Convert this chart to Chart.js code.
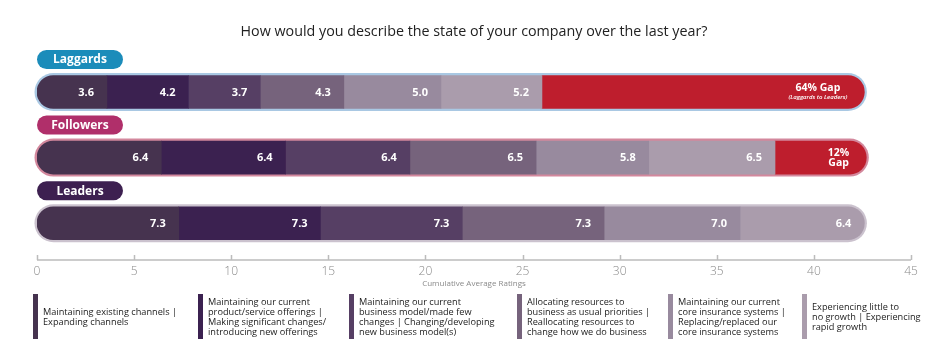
<!DOCTYPE html>
<html><head><meta charset="utf-8">
<script src="https://cdn.jsdelivr.net/npm/chart.js@4.4.0/dist/chart.umd.min.js"></script>
<style>
html,body{margin:0;padding:0;background:#fff;}
#wrap{position:relative;width:946px;height:357px;overflow:hidden;}
canvas{position:absolute;left:0;top:0;}
.lg{position:absolute;top:294px;height:45px;display:flex;align-items:center;font-family:'Open Sans',sans-serif;font-size:9.2px;line-height:10px;color:#222;}
.lg i{position:absolute;left:0;top:0;width:5px;height:45px;}
.lg span{margin-left:10px;white-space:nowrap;}
</style></head>
<body><div id="wrap"><canvas id="c" width="946" height="357"></canvas><div id="legend"></div></div>
<script>
// ---- data ----
const categories = ['Laggards', 'Followers', 'Leaders'];
const ratingNames = [
  'Maintaining existing channels |\nExpanding channels',
  'Maintaining our current\nproduct/service offerings |\nMaking significant changes/\nintroducing new offerings',
  'Maintaining our current\nbusiness model/made few\nchanges | Changing/developing\nnew business model(s)',
  'Allocating resources to\nbusiness as usual priorities |\nReallocating resources to\nchange how we do business',
  'Maintaining our current\ncore insurance systems |\nReplacing/replaced our\ncore insurance systems',
  'Experiencing little to\nno growth | Experiencing\nrapid growth'
];
const channels   = [3.6, 6.4, 7.3];
const offerings  = [4.2, 6.4, 7.3];
const bizModel   = [3.7, 6.4, 7.3];
const resources  = [4.3, 6.5, 7.3];
const coreSys    = [5.0, 5.8, 7.0];
const growth     = [5.2, 6.5, 6.4];
const gapValues  = [16.6, 4.7, 0];
const gapLabels  = [['64% Gap', '(Laggards to Leaders)'], ['12%', 'Gap'], []];
const xTicks     = [0, 5, 10, 15, 20, 25, 30, 35, 40, 45];
const titleText  = 'How would you describe the state of your company over the last year?';
const axisTitle  = 'Cumulative Average Ratings';

// ---- styles ----
const FONT = "'Open Sans', sans-serif";
const segColors = ['#46334f', '#3b2150', '#563f64', '#76637c', '#988a9e', '#aa9cac'];
const gapColor = '#be1e2d';
const outlineColors = ['#a9c8e3', '#d3889d', '#cbc2ce'];
const pillColors = ['#1b8cba', '#b02f6a', '#3d2050'];
const legendLeft = [33, 198, 349, 517, 668, 802];
const BAR_H = 33;

const series = [channels, offerings, bizModel, resources, coreSys, growth];
const allSeries = series.concat([gapValues]);

const datasets = allSeries.map((s, k) => ({
  label: k < 6 ? ratingNames[k] : 'Gap',
  data: s.map(v => (v > 0 ? v : null)),
  backgroundColor: k < 6 ? segColors[k] : gapColor,
  borderWidth: 0,
  borderSkipped: false,
  inflateAmount: 0.3,
  barThickness: BAR_H,
  borderRadius: ctx => {
    const i = ctx.dataIndex, di = ctx.datasetIndex;
    let last = 0;
    allSeries.forEach((ss, j) => { if (ss[i] > 0) last = j; });
    const r = BAR_H / 2;
    const L = di === 0 ? r : 0, R = di === last ? r : 0;
    return {topLeft: L, bottomLeft: L, topRight: R, bottomRight: R};
  }
}));

const decor = {
  id: 'decor',
  beforeDatasetsDraw(chart) {
    const {ctx, scales: {x, y}} = chart;
    ctx.save();
    categories.forEach((c, i) => {
      const cy = y.getPixelForValue(i);
      const total = allSeries.reduce((a, s) => a + s[i], 0);
      const x0 = x.getPixelForValue(0), x1 = x.getPixelForValue(total);
      const e = 2.5;
      ctx.beginPath();
      ctx.roundRect(x0 - e, cy - BAR_H / 2 - e, x1 - x0 + 2 * e, BAR_H + 2 * e, BAR_H / 2 + e);
      ctx.fillStyle = outlineColors[i];
      ctx.fill();
    });
    ctx.restore();
  },
  afterDatasetsDraw(chart) {
    const {ctx, scales: {x, y}, chartArea} = chart;
    ctx.save();
    ctx.fillStyle = '#fff';
    ctx.textBaseline = 'middle';
    series.forEach((s, d) => {
      const meta = chart.getDatasetMeta(d);
      meta.data.forEach((el, i) => {
        ctx.font = `bold 11px ${FONT}`;
        ctx.textAlign = 'right';
        ctx.fillText(s[i].toFixed(1), el.x - 13, el.y + 0.5);
      });
    });
    const gm = chart.getDatasetMeta(6);
    gm.data.forEach((el, i) => {
      const lines = gapLabels[i];
      if (!lines.length) return;
      const fonts = i === 0 ? [`bold 10.5px ${FONT}`, `italic 600 6px ${FONT}`] : [`bold 10.5px ${FONT}`, `bold 10.5px ${FONT}`];
      const offs = i === 0 ? [-4, 5] : [-5, 5];
      let w = 0;
      lines.forEach((t, k) => { ctx.font = fonts[k]; w = Math.max(w, ctx.measureText(t).width); });
      const cx = el.x - 17 - w / 2;
      ctx.textAlign = 'center';
      lines.forEach((t, k) => { ctx.font = fonts[k]; ctx.fillText(t, cx, el.y + offs[k]); });
    });
    categories.forEach((c, i) => {
      const cy = y.getPixelForValue(i) - 32.5;
      const px = chartArea.left, pw = 86, ph = 19;
      ctx.beginPath();
      ctx.roundRect(px, cy - ph / 2, pw, ph, ph / 2);
      ctx.fillStyle = pillColors[i];
      ctx.fill();
      ctx.fillStyle = '#fff';
      ctx.font = `bold 12px ${FONT}`;
      ctx.textAlign = 'center';
      ctx.fillText(c, px + pw / 2, cy + 0.5);
    });
    ctx.restore();
  },
  afterDraw(chart) {
    const {ctx, scales: {x}, chartArea} = chart;
    const ay = chartArea.bottom + 4;
    ctx.save();
    ctx.strokeStyle = '#bcbcbc';
    ctx.lineWidth = 1.5;
    ctx.beginPath();
    ctx.moveTo(x.getPixelForValue(xTicks[0]), ay);
    ctx.lineTo(x.getPixelForValue(xTicks[xTicks.length - 1]), ay);
    xTicks.forEach(v => {
      const px = Math.round(x.getPixelForValue(v)) + 0.5;
      ctx.moveTo(px, ay);
      ctx.lineTo(px, ay - 5);
    });
    ctx.stroke();
    ctx.restore();
  }
};

new Chart(document.getElementById('c'), {
  type: 'bar',
  data: {labels: categories, datasets},
  options: {
    indexAxis: 'y',
    responsive: false,
    animation: false,
    layout: {padding: {top: 0, left: 37, right: 35, bottom: 68}},
    plugins: {
      legend: {display: false},
      tooltip: {enabled: false},
      title: {
        display: true, text: titleText, color: '#222',
        font: {size: 14.3, family: FONT, weight: 'normal'},
        padding: {top: 23, bottom: 19}
      }
    },
    scales: {
      x: {
        stacked: true, min: 0, max: 45,
        afterBuildTicks: s => { s.ticks = xTicks.map(v => ({value: v})); },
        afterFit: s => { s.height = 33; },
        ticks: {color: '#8a8a8a', font: {size: 12, family: FONT, weight: '300'}, padding: 8, maxRotation: 0},
        grid: {display: false, drawTicks: false},
        border: {display: false},
        title: {display: true, text: axisTitle, color: '#8a8a8a', font: {size: 8, family: FONT}, padding: {top: 2, bottom: 0}}
      },
      y: {stacked: true, display: false}
    }
  },
  plugins: [decor]
});

const lg = document.getElementById('legend');
ratingNames.forEach((n, k) => {
  const d = document.createElement('div');
  d.className = 'lg';
  d.style.left = legendLeft[k] + 'px';
  const bar = document.createElement('i');
  bar.style.background = segColors[k];
  const sp = document.createElement('span');
  n.split('\n').forEach((line, j) => {
    if (j) sp.appendChild(document.createElement('br'));
    sp.appendChild(document.createTextNode(line));
  });
  d.appendChild(bar); d.appendChild(sp);
  lg.appendChild(d);
});
</script>
</body></html>
